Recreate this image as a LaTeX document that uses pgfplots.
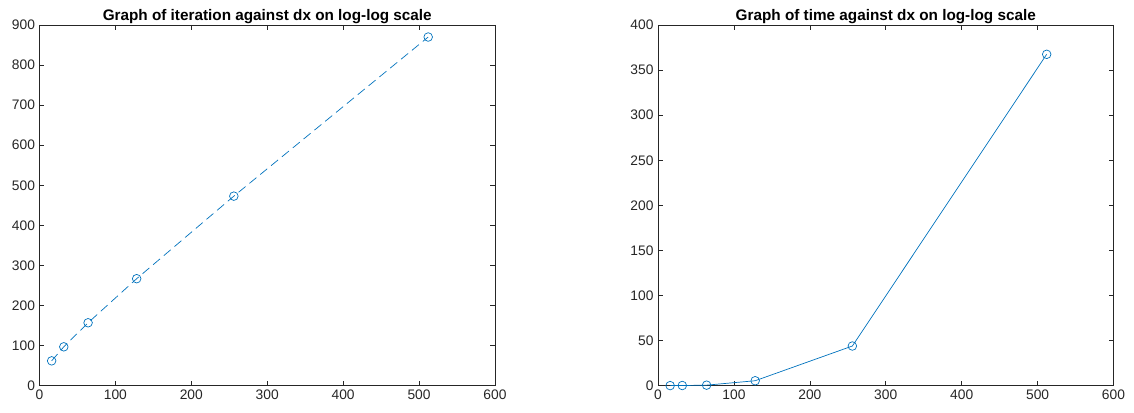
\documentclass[border=0pt]{standalone}
\usepackage{pgfplots}
\pgfplotsset{compat=1.18}
\usepackage{fontspec}
\setmainfont{Liberation Sans}
\definecolor{mblue}{RGB}{0,114,189}
\definecolor{mgray}{RGB}{38,38,38}
\begin{document}
\begin{tikzpicture}
\useasboundingbox (0pt,0pt) rectangle (1134pt,412pt);
\pgfplotsset{
  mstyle/.style={
    scale only axis,
    width=455.5pt, height=360.7pt,
    axis line style={mgray, line width=0.6pt},
    tick style={mgray, line width=0.6pt},
    tick align=inside,
    major tick length=5pt,
    xtick pos=both, ytick pos=both,
    ticklabel style={font=\fontsize{13.8}{15}\selectfont, text=mgray},
    /pgf/number format/assume math mode=true,
    xmin=0, xmax=600, xtick={0,100,...,600},
    title style={font=\bfseries\fontsize{15.3}{17}\selectfont, text=black, at={(0.5,1)}, anchor=base, yshift=-2pt},
    xticklabel style={yshift=-1pt},
    yticklabel style={xshift=-1pt},
    scaled ticks=false,
  }
}
\begin{axis}[mstyle, at={(39.5pt,26.3pt)}, anchor=south west,
  ymin=0, ymax=900, ytick={0,100,...,900},
  title={Graph of iteration against dx on log-log scale}]
\addplot[mblue, line width=0.7pt, dash pattern=on 9pt off 5pt, mark=o, mark size=4.3pt, mark options={solid}]
  coordinates {(16,62) (32,97) (64,157) (128,267) (256,473) (512,870)};
\end{axis}
\begin{axis}[mstyle, at={(658pt,26.3pt)}, anchor=south west,
  ymin=0, ymax=400, ytick={0,50,...,400},
  title={Graph of time against dx on log-log scale}]
\addplot[mblue, line width=0.7pt, mark=o, mark size=4.3pt]
  coordinates {(16,0.1) (32,0.2) (64,0.6) (128,5.5) (256,44) (512,367.5)};
\end{axis}
\end{tikzpicture}
\end{document}
